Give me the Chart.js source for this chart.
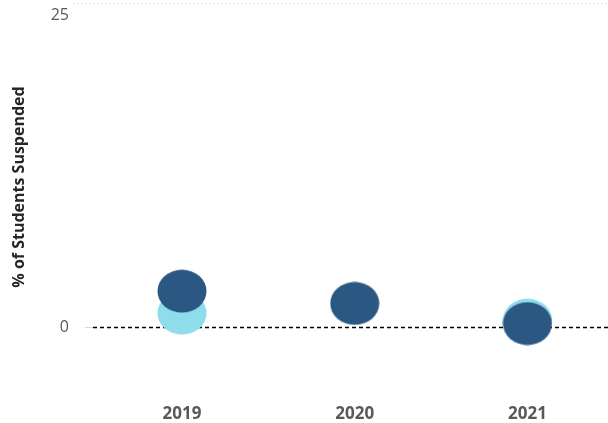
<!DOCTYPE html>
<html>
<head>
<meta charset="utf-8">
<script src="https://cdn.jsdelivr.net/npm/chart.js@4"></script>
<style>
  html, body { margin: 0; padding: 0; background: #fff; }
  #wrap { width: 608px; height: 423px; }
</style>
</head>
<body>
<div id="wrap"><canvas id="chart"></canvas></div>
<script>
const years = ['2019', '2020', '2021'];
const darkSeries = [2.9, 1.92, 0.3];
const lightSeries = [1.14, null, 0.58];
const yTicks = [0, 25];

// ellipse marker, the dots in the reference are a bit wider than tall
function ellipse(color) {
    const c = document.createElement('canvas');
    c.width = 50; c.height = 44;
    const g = c.getContext('2d');
    g.fillStyle = color;
    g.beginPath();
    g.ellipse(25, 22, 24.5, 21.5, 0, 0, Math.PI * 2);
    g.fill();
    return c;
}

const toPoints = arr => arr.map((v, i) => ({ x: i, y: v }));

// zero line (black dashed) and light dotted line at the top of the plot
const refLines = {
    id: 'refLines',
    beforeDatasetsDraw(chart) {
        const { ctx, chartArea, scales } = chart;
        ctx.save();
        ctx.setLineDash([2, 2]);
        ctx.strokeStyle = '#e6e6e6';
        ctx.lineWidth = 1;
        ctx.beginPath();
        ctx.moveTo(chartArea.left - 20, chartArea.top + 0.5);
        ctx.lineTo(chartArea.right, chartArea.top + 0.5);
        ctx.stroke();
        const y0 = Math.round(scales.y.getPixelForValue(0)) + 0.5;
        ctx.setLineDash([4, 3]);
        ctx.strokeStyle = '#000';
        ctx.lineWidth = 1.5;
        ctx.beginPath();
        ctx.moveTo(chartArea.left, y0);
        ctx.lineTo(chartArea.right, y0);
        ctx.stroke();
        ctx.restore();
    }
};

new Chart(document.getElementById('chart'), {
    type: 'scatter',
    data: {
        datasets: [{
            label: 'Dark',
            data: toPoints(darkSeries),
            pointStyle: ellipse('#2b5783'),
            backgroundColor: '#2b5783'
        }, {
            label: 'Light',
            data: toPoints(lightSeries),
            pointStyle: ellipse('#8fdcea'),
            backgroundColor: '#8fdcea'
        }]
    },
    options: {
        responsive: true,
        maintainAspectRatio: false,
        animation: false,
        layout: { autoPadding: false, padding: { top: 3, right: 0, bottom: 0, left: 0 } },
        plugins: { legend: { display: false }, tooltip: { enabled: false } },
        scales: {
            x: {
                type: 'linear',
                min: -0.515,
                max: 2.466,
                afterBuildTicks: s => { s.ticks = years.map((_, i) => ({ value: i })); },
                afterFit: s => { s.height = 52; s.paddingLeft = 0; s.paddingRight = 0; },
                grid: { display: false },
                border: { display: false },
                ticks: {
                    padding: 25,
                    color: '#595959',
                    font: { family: 'Open Sans', size: 17, weight: 'bold' },
                    callback: v => years[v]
                }
            },
            y: {
                min: -3.5,
                max: 26,
                afterBuildTicks: s => { s.ticks = yTicks.map(v => ({ value: v })); },
                afterFit: s => { s.width = 93; s.paddingTop = 0; s.paddingBottom = 0; },
                grid: {
                    drawOnChartArea: false,
                    tickLength: 8,
                    tickColor: ctx => ctx.tick && ctx.tick.value === 0 ? '#d9d9d9' : 'rgba(0,0,0,0)'
                },
                border: { display: false },
                ticks: {
                    padding: 16,
                    color: '#595959',
                    font: { family: 'Open Sans', size: 16 }
                },
                title: {
                    display: true,
                    text: '% of Students Suspended',
                    color: '#262626',
                    font: { family: 'Open Sans', size: 16, weight: 'bold' },
                    padding: { top: 10, bottom: 0 }
                }
            }
        }
    },
    plugins: [refLines]
});
</script>
</body>
</html>
